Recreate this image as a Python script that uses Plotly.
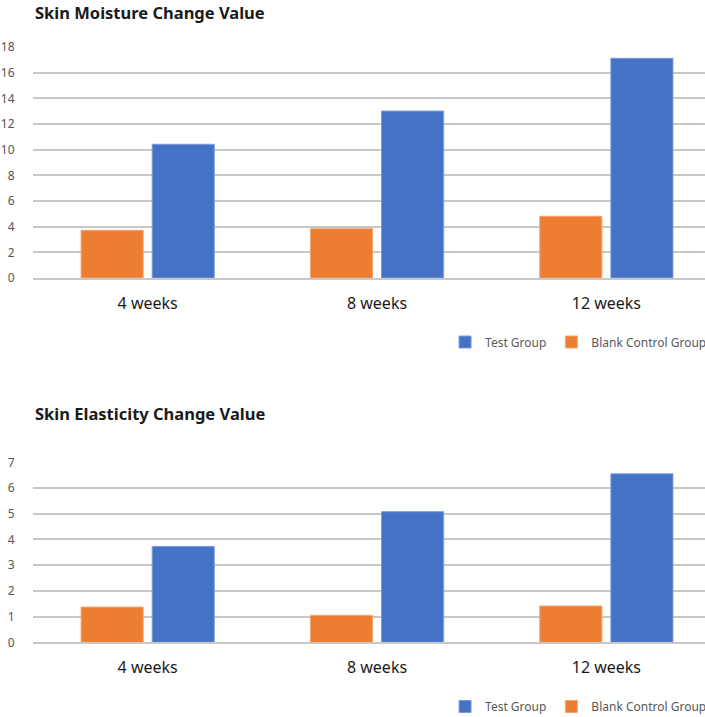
import plotly.graph_objects as go

categories = ["4 weeks", "8 weeks", "12 weeks"]
moisture_test = [10.42, 13.01, 17.12]
moisture_blank = [3.72, 3.84, 4.81]
elasticity_test = [3.73, 5.08, 6.55]
elasticity_blank = [1.37, 1.05, 1.41]
moisture_ticks = [0, 2, 4, 6, 8, 10, 12, 14, 16, 18]
elasticity_ticks = [0, 1, 2, 3, 4, 5, 6, 7]

BLUE = "#4472C4"
ORANGE = "#ED7D31"
FONT = "Noto Sans"
GRID = "#C8C8C8"

fig = go.Figure()

fig.add_trace(go.Bar(x=categories, y=moisture_blank, name="Blank Control Group",
                     marker=dict(color=ORANGE, line=dict(color="#F4A56E", width=1)),
                     xaxis="x", yaxis="y", legend="legend"))
fig.add_trace(go.Bar(x=categories, y=moisture_test, name="Test Group",
                     marker=dict(color=BLUE, line=dict(color="#7D9BD6", width=1)),
                     xaxis="x", yaxis="y", legend="legend"))
fig.add_trace(go.Bar(x=categories, y=elasticity_blank, name="Blank Control Group",
                     marker=dict(color=ORANGE, line=dict(color="#F4A56E", width=1)),
                     xaxis="x2", yaxis="y2", legend="legend2"))
fig.add_trace(go.Bar(x=categories, y=elasticity_test, name="Test Group",
                     marker=dict(color=BLUE, line=dict(color="#7D9BD6", width=1)),
                     xaxis="x2", yaxis="y2", legend="legend2"))

H = 717.0
W = 705.0
xdom = [33 / W, 1.0]
# the reference's plot area runs past the right edge of the picture
xrange_ = [-0.5, 2.43]

xcommon = dict(domain=xdom, range=xrange_, showgrid=False, showline=True, linecolor=GRID, linewidth=1.5,
               ticks="outside", ticklen=10, tickcolor="rgba(0,0,0,0)", automargin=False,
               tickfont=dict(family=FONT, size=16, color="#1a1a1a"))
ycommon = dict(showgrid=True, gridcolor=GRID, gridwidth=1.5, zeroline=False, showline=False,
               ticks="outside", ticklen=15, tickcolor="rgba(0,0,0,0)", automargin=False,
               tickfont=dict(family=FONT, size=12, color="#555555"))

legcommon = dict(orientation="h", x=1.01, xanchor="right",
                 traceorder="reversed", font=dict(family=FONT, size=12, color="#595959"),
                 bgcolor="rgba(0,0,0,0)", itemwidth=30, tracegroupgap=0)

fig.update_layout(
    width=705, height=717,
    margin=dict(l=0, r=0, t=0, b=0, autoexpand=False),
    paper_bgcolor="white", plot_bgcolor="white",
    barmode="group", bargap=0.38, bargroupgap=0.127,
    xaxis=dict(**xcommon, anchor="y"),
    yaxis=dict(**ycommon, domain=[1 - 278 / H, 1 - 47 / H], range=[0, 18], tickvals=moisture_ticks,
               anchor="x"),
    xaxis2=dict(**xcommon, anchor="y2"),
    yaxis2=dict(**ycommon, domain=[1 - 642.3 / H, 1 - 462.3 / H], range=[0, 7], tickvals=elasticity_ticks,
                anchor="x2"),
    legend=dict(**legcommon, y=1 - 342 / H, yanchor="middle"),
    legend2=dict(**legcommon, y=1 - 706.5 / H, yanchor="middle"),
    annotations=[
        dict(text="<b>Skin Moisture Change Value</b>", xref="paper", yref="paper",
             x=33 / W, y=1 - 12 / H, xanchor="left", yanchor="middle", showarrow=False,
             font=dict(family=FONT, size=16.5, color="#1a1a1a")),
        dict(text="<b>Skin Elasticity Change Value</b>", xref="paper", yref="paper",
             x=33 / W, y=1 - 414 / H, xanchor="left", yanchor="middle", showarrow=False,
             font=dict(family=FONT, size=16.5, color="#1a1a1a")),
    ],
)

fig.write_html(
    "out.html",
    config={"displayModeBar": False},
    post_script=(
        "document.documentElement.style.margin='0';document.body.style.margin='0';"
        "document.body.style.overflow='hidden';"
        "var d=document.getElementById('{plot_id}');"
        "d.style.position='fixed';d.style.top='0px';d.style.left='0px';"
    ),
)
